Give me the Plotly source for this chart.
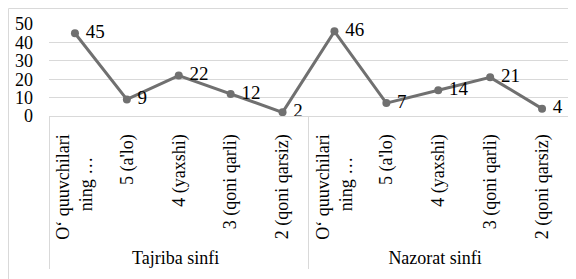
import plotly.graph_objects as go

groups = ["Tajriba sinfi"] * 5 + ["Nazorat sinfi"] * 5
categories = ["O‘ quuvchilari<br>ning …\u00a0\u00a0\u00a0\u00a0\u00a0", "5 (a'lo)", "4 (yaxshi)", "3 (qoni qarli)", "2 (qoni qarsiz)"] * 2
values = [45, 9, 22, 12, 2, 46, 7, 14, 21, 4]
y_ticks = [0, 10, 20, 30, 40, 50]

FONT = "Liberation Serif"
LINE = "#707070"
GRID = "#d9d9d9"

fig = go.Figure(go.Scatter(
    x=[groups, categories],
    y=values,
    mode="lines+markers+text",
    text=[str(v) for v in values],
    texttemplate=" %{text}",
    textposition="middle right",
    textfont=dict(family=FONT, size=19, color="#000000"),
    line=dict(color=LINE, width=3),
    marker=dict(color=LINE, size=8),
    cliponaxis=False,
    hoverinfo="skip",
))

fig.update_layout(
    width=576, height=279,
    margin=dict(l=41, r=16, t=16, b=171),
    paper_bgcolor="white", plot_bgcolor="white",
    showlegend=False,
    font=dict(family=FONT, size=18, color="#000000"),
)
fig.update_xaxes(
    type="multicategory",
    range=[-0.5, 9.5],
    automargin=False,
    tickangle=-90,
    tickfont=dict(family=FONT, size=18, color="#000000"),
    ticklabelstandoff=10,
    showline=True, linecolor=GRID, linewidth=1,
    showgrid=False,
    showdividers=True, dividercolor=GRID, dividerwidth=1,
    ticks="",
)
fig.update_yaxes(
    automargin=False,
    range=[0, 50],
    tickvals=y_ticks,
    showgrid=True, gridcolor=GRID, gridwidth=1,
    zeroline=False,
    showline=False,
    ticks="",
    ticklabelstandoff=15,
    tickfont=dict(family=FONT, size=18, color="#000000"),
)
# chart frame
fig.add_shape(type="rect", xref="paper", yref="paper",
              x0=-0.078, x1=1.05, y0=-1.95, y1=1.1685,
              line=dict(color=GRID, width=1), layer="below")

fig.write_html("out.html")
